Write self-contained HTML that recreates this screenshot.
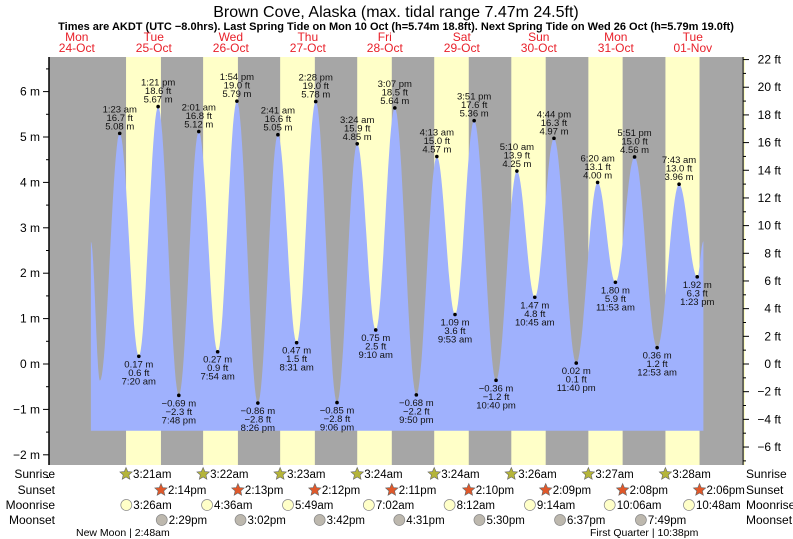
<!DOCTYPE html>
<html><head><meta charset="utf-8"><style>
body{margin:0;background:#fff;}
svg{display:block;font-family:"Liberation Sans",sans-serif;}
</style></head><body>
<svg id="c" width="793" height="539"></svg>
<script>
const dayNames=["Mon","Tue","Wed","Thu","Fri","Sat","Sun","Mon","Tue"];
const dayDates=["24-Oct","25-Oct","26-Oct","27-Oct","28-Oct","29-Oct","30-Oct","31-Oct","01-Nov"];
// tide extremes: hours since 25-Oct 00:00, metres, ft text, time text
const tideHours=[-7.6,-4.8,1.38,7.33,13.35,19.8,26.02,31.9,37.9,44.43,50.68,56.52,62.47,69.1,75.4,81.17,87.12,93.83,100.22,105.88,111.85,118.67,125.17,130.75,136.73,143.67,150.33,155.88,161.85,168.88,175.72,181.38,183.3];
const tideMeters=[2.69,-0.37,5.08,0.17,5.67,-0.69,5.12,0.27,5.79,-0.86,5.05,0.47,5.78,-0.85,4.85,0.75,5.64,-0.68,4.57,1.09,5.36,-0.36,4.25,1.47,4.97,0.02,4.00,1.80,4.56,0.36,3.96,1.92,2.7];
const tideFeet=["","","16.7 ft","0.6 ft","18.6 ft","−2.3 ft","16.8 ft","0.9 ft","19.0 ft","−2.8 ft","16.6 ft","1.5 ft","19.0 ft","−2.8 ft","15.9 ft","2.5 ft","18.5 ft","−2.2 ft","15.0 ft","3.6 ft","17.6 ft","−1.2 ft","13.9 ft","4.8 ft","16.3 ft","0.1 ft","13.1 ft","5.9 ft","15.0 ft","1.2 ft","13.0 ft","6.3 ft",""];
const tideTimes=["","","1:23 am","7:20 am","1:21 pm","7:48 pm","2:01 am","7:54 am","1:54 pm","8:26 pm","2:41 am","8:31 am","2:28 pm","9:06 pm","3:24 am","9:10 am","3:07 pm","9:50 pm","4:13 am","9:53 am","3:51 pm","10:40 pm","5:10 am","10:45 am","4:44 pm","11:40 pm","6:20 am","11:53 am","5:51 pm","12:53 am","7:43 am","1:23 pm",""];
const sunriseH=[3.35,3.37,3.38,3.4,3.4,3.43,3.45,3.47,3.48];
const sunriseT=["3:21am","3:22am","3:23am","3:24am","3:24am","3:26am","3:27am","3:28am"];
const sunsetH=[14.23,14.22,14.2,14.18,14.17,14.15,14.13,14.1];
const sunsetT=["2:14pm","2:13pm","2:12pm","2:11pm","2:10pm","2:09pm","2:08pm","2:06pm"];
const moonriseH=[3.43,4.6,5.82,7.03,8.2,9.23,10.1,10.8];
const moonriseT=["3:26am","4:36am","5:49am","7:02am","8:12am","9:14am","10:06am","10:48am"];
const moonsetH=[14.48,15.03,15.7,16.52,17.5,18.62,19.82];
const moonsetT=["2:29pm","3:02pm","3:42pm","4:31pm","5:30pm","6:37pm","7:49pm"];
const mTicks=[-2,-1,0,1,2,3,4,5,6];
const ftTicks=[-6,-4,-2,0,2,4,6,8,10,12,14,16,18,20,22];

const X0=49,X1=742,Y0=57,Y1=465;
const x=h=>115.3+h*77/24;
const y=m=>364-m*45.4;
const NS="http://www.w3.org/2000/svg";
const svg=document.getElementById('c');
function mk(t,a,p){const e=document.createElementNS(NS,t);for(const k in a)e.setAttribute(k,a[k]);(p||svg).appendChild(e);return e;}
function tx(s,xx,yy,a,p){const e=mk('text',Object.assign({x:xx,y:yy},a),p);e.textContent=s;return e;}

let e;
e=tx("Brown Cove, Alaska (max. tidal range 7.47m 24.5ft)",396,17,{"text-anchor":"middle","font-size":"16"});

e=tx("Times are AKDT (UTC −8.0hrs). Last Spring Tide on Mon 10 Oct (h=5.74m 18.8ft). Next Spring Tide on Wed 26 Oct (h=5.79m 19.0ft)",396,30,{"text-anchor":"middle","font-size":"11","font-weight":"bold"});


e=mk('rect',{x:X0,y:Y0,width:X1-X0,height:Y1-Y0,fill:"#a6a6a6"});

for(let d=0;d<sunriseH.length;d++){
  const a=x(d*24+sunriseH[d]);const b=d<sunsetH.length?x(d*24+sunsetH[d]):X1+3;
  e=mk('rect',{x:a,y:Y0,width:Math.min(b,X1+3)-a,height:Y1-Y0,fill:"#ffffc8"});
  
}
for(let i=0;i<dayNames.length;i++){
  const cx=x((i-1)*24+12);
  e=tx(dayNames[i],cx,41,{"text-anchor":"middle","font-size":"12",fill:"#e8202a"});
  
  e=tx(dayDates[i],cx,52,{"text-anchor":"middle","font-size":"12",fill:"#e8202a"});
  
}
// tide curve
let pts=[];
const base=y(-1.47);
pts.push([x(tideHours[0]),base]);
for(let i=0;i<tideHours.length-1;i++){
  const h0=tideHours[i],h1=tideHours[i+1],m0=tideMeters[i],m1=tideMeters[i+1];
  for(let s=0;s<=20;s++){const f=s/20;const h=h0+(h1-h0)*f;const m=m0+(m1-m0)*(1-Math.cos(Math.PI*f))/2;pts.push([x(h),y(m)]);}
}
pts.push([x(tideHours[tideHours.length-1]),base]);
e=mk('polygon',{points:pts.map(p=>p[0].toFixed(1)+","+p[1].toFixed(1)).join(" "),fill:"#9fb1fd"});

for(let i=1;i<tideHours.length-1;i++){
  if(!tideTimes[i])continue;
  const px=x(tideHours[i]),py=y(tideMeters[i]);
  const hi=tideMeters[i]>tideMeters[i-1];
  e=mk('circle',{cx:px,cy:py,r:1.8,fill:"#000"});
  
  const g=mk('g',{"font-size":"9.5","text-anchor":"middle",fill:"#111"});
  
  const mt=tideMeters[i].toFixed(2).replace('-','−')+" m";
  if(hi){tx(tideTimes[i],px,py-21,{},g);tx(tideFeet[i],px,py-12.5,{},g);tx(mt,px,py-4,{},g);}
  else{tx(mt,px,py+11,{},g);tx(tideFeet[i],px,py+19.5,{},g);tx(tideTimes[i],px,py+28,{},g);}
}
// axes
e=mk('line',{x1:X0,y1:Y0,x2:X0,y2:Y1,stroke:"#000","stroke-width":1.5});

e=mk('line',{x1:X1+1,y1:Y0,x2:X1+1,y2:Y1,stroke:"#333","stroke-width":1.5});

for(let v=-2.5;v<=6.5;v+=0.5){mk('line',{x1:X0-(v%1?3:6),y1:y(v),x2:X0,y2:y(v),stroke:"#000"});}
mTicks.forEach(v=>{e=tx((v<0?"−":"")+Math.abs(v)+" m",X0-9,y(v)+4,{"text-anchor":"end","font-size":"12"});
 });
for(let f=-7;f<=22;f++){const yy=y(f*0.3048);mk('line',{x1:X1+1,y1:yy,x2:X1+(f%2?4:7),y2:yy,stroke:"#000"});}
ftTicks.forEach(f=>{e=tx((f<0?"−":"")+Math.abs(f)+" ft",781,y(f*0.3048)+4,{"text-anchor":"end","font-size":"12"});
 });
// bottom rows
const rows=[["Sunrise",478],["Sunset",494],["Moonrise",509],["Moonset",524]];
rows.forEach(r=>{e=tx(r[0],55,r[1],{"text-anchor":"end","font-size":"12"});
 e=tx(r[0],746,r[1],{"font-size":"12"});});
function star(cx,cy,fill){let p=[];for(let k=0;k<10;k++){const r=k%2?3:6.5;const a=-Math.PI/2+k*Math.PI/5;p.push((cx+r*Math.cos(a)).toFixed(1)+","+(cy+r*Math.sin(a)).toFixed(1));}
 return mk('polygon',{points:p.join(" "),fill:fill,stroke:"#666","stroke-width":0.6});}
function icons(hs,ts,rowY,kind){hs.forEach((h,d)=>{if(d>=ts.length)return;const cx=x(d*24+h),cy=rowY-4;
 if(kind=="sr")e=star(cx,cy,"#b5b53a");else if(kind=="ss")e=star(cx,cy,"#e0582a");
 else e=mk('circle',{cx:cx,cy:cy,r:5.5,fill:kind=="mr"?"#ffffc8":"#bdb8ae",stroke:"#888","stroke-width":0.7});
 
 e=tx(ts[d],cx+7,rowY,{"font-size":"11.5"});});}
icons(sunriseH,sunriseT,478,"sr");icons(sunsetH,sunsetT,494,"ss");icons(moonriseH,moonriseT,509,"mr");icons(moonsetH,moonsetT,524,"ms");
e=tx("New Moon | 2:48am",76,536,{"font-size":"10.5"});
e=tx("First Quarter | 10:38pm",590,536,{"font-size":"10.5"});
</script>
</body></html>
